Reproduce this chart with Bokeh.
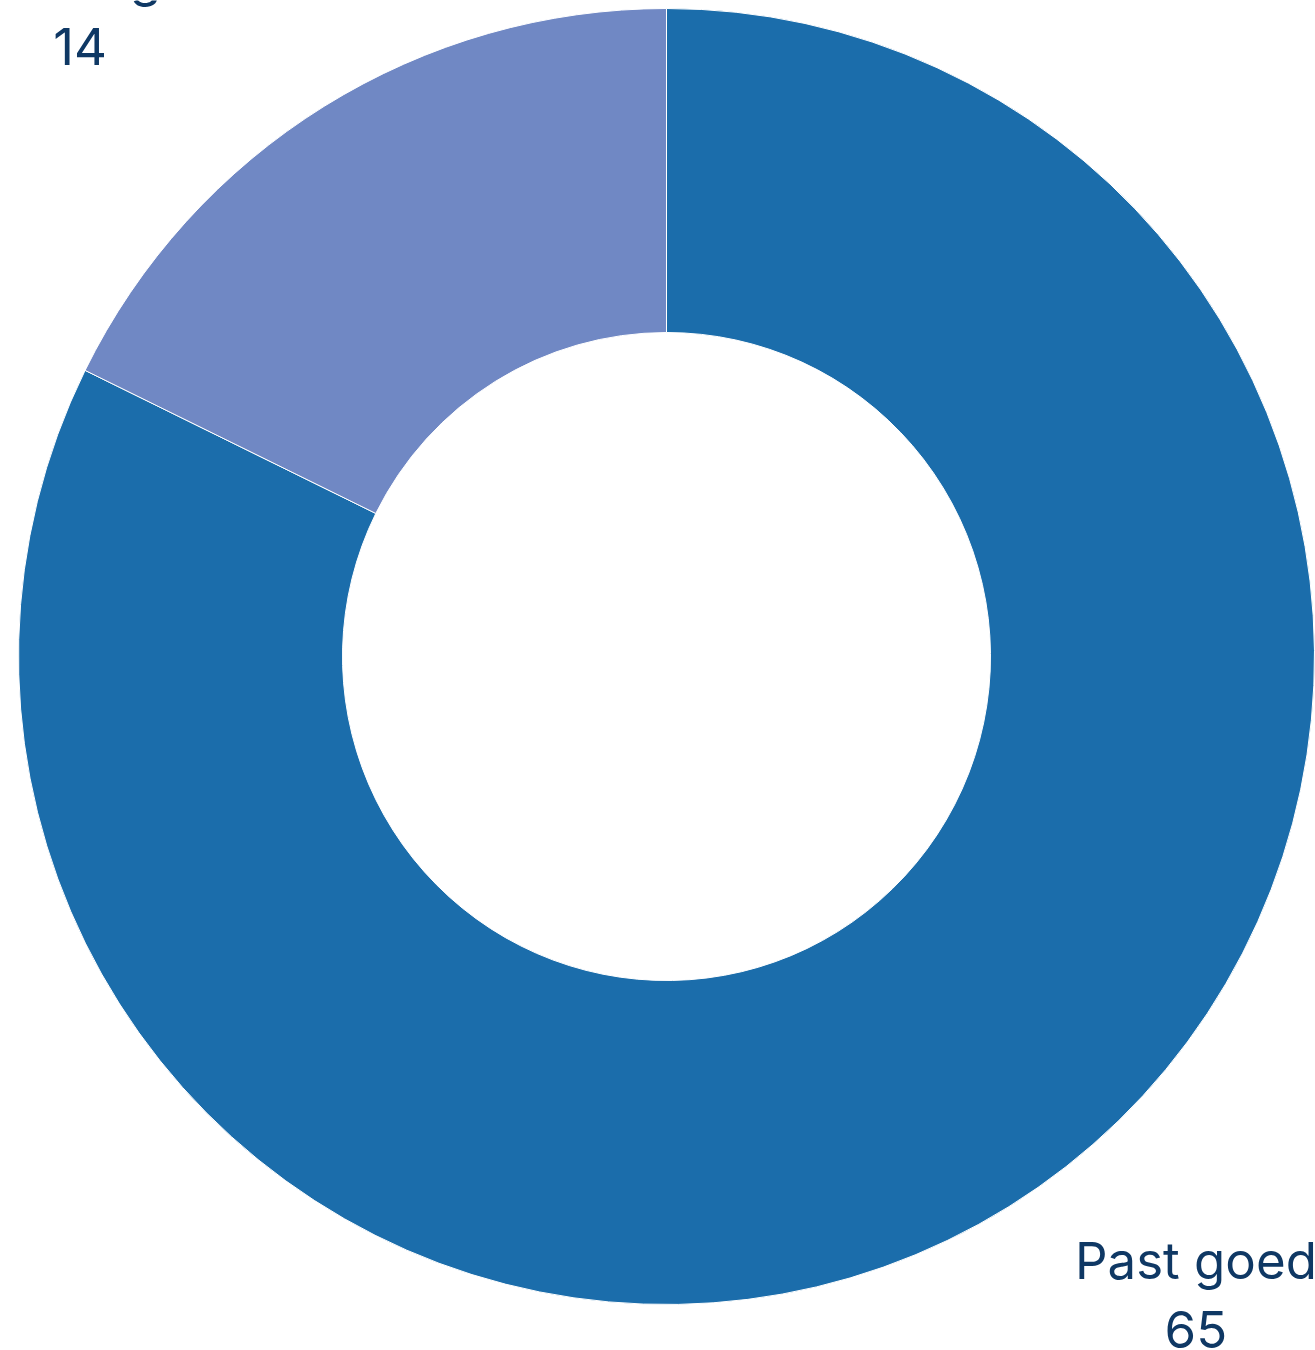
import math
from bokeh.plotting import figure
from bokeh.models import ColumnDataSource, Range1d
from bokeh.core.properties import value
from bokeh.embed import file_html
from bokeh.resources import INLINE

categories = ["Past goed", "Past niet goed"]
counts = [65, 14]
colors = ["#1b6dab", "#7088c4"]

W, H = 1315, 1350
CX, CY = 666, 656  # centre in pixels from top-left of figure
R_OUT, R_IN = 648, 324

p = figure(width=W, height=H, output_backend="svg", toolbar_location=None,
           x_range=Range1d(-CX, W - CX), y_range=Range1d(-(H - CY), CY),
           min_border=0, outline_line_color=None)
p.axis.visible = False
p.grid.visible = False
p.background_fill_color = "white"
p.border_fill_color = "white"

total = sum(counts)
top = math.pi / 2
a14 = 2 * math.pi * counts[1] / total
starts = [top + a14, top]
ends = [top + 2 * math.pi, top + a14]
src = ColumnDataSource(dict(cat=categories, val=counts, start=starts, end=ends, color=colors))
p.annular_wedge(x=0, y=0, inner_radius=R_IN, outer_radius=R_OUT,
                start_angle="start", end_angle="end", fill_color="color",
                line_color="white", line_width=1, source=src)

# labels: placement offsets relative to slice mid-angle edge (first line baseline)
label_offsets = [(187, -54), (-244, 129)]
LINE = 69
xs, ys, ts = [], [], []
for i, (s, e) in enumerate(zip(starts, ends)):
    mid = (s + e) / 2
    ex, ey = R_OUT * math.cos(mid), R_OUT * math.sin(mid)
    dx, dy = label_offsets[i]
    xs += [ex + dx, ex + dx]
    ys += [ey + dy, ey + dy - LINE]
    ts += [categories[i], str(counts[i])]

lsrc = ColumnDataSource(dict(x=xs, y=ys, t=ts))
p.text(x="x", y="y", text="t", source=lsrc, text_align="center",
       text_baseline="alphabetic", text_font=value("Inter"),
       text_font_size="51px", text_color="#0f3864")

open("out.html", "w").write(file_html(p, INLINE))
